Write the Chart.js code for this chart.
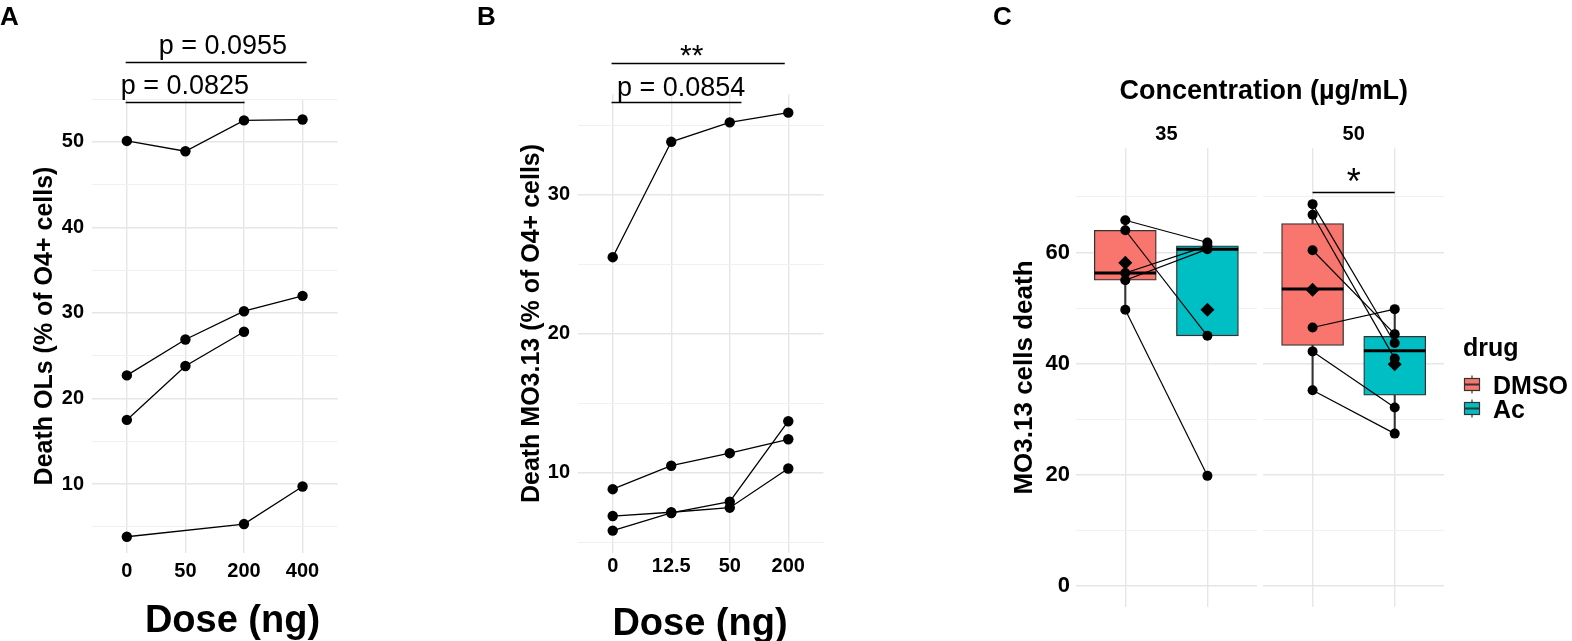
<!DOCTYPE html>
<html>
<head>
<meta charset="utf-8">
<script src="https://cdn.jsdelivr.net/npm/chart.js@4.4.1/dist/chart.umd.min.js"></script>
<style>
  html, body { margin: 0; padding: 0; background: #fff; }
  body { width: 1572px; height: 641px; position: relative; overflow: hidden; }
  canvas { position: absolute; top: 0; }
</style>
</head>
<body>
<canvas id="chartA" width="470" height="641" style="left:0"></canvas>
<canvas id="chartB" width="500" height="641" style="left:470px"></canvas>
<canvas id="chartC35" width="602" height="641" style="left:970px"></canvas>
<canvas id="chartC50" width="602" height="641" style="left:970px"></canvas>
<script>
"use strict";

const FONT = "'Liberation Sans', Arial, Helvetica, sans-serif";
const GRID = "#e6e6e6";
const GRID_MINOR = "#f0f0f0";

// panel A - OL death, one array per replicate (null = not measured)
const doseA = ["0", "50", "200", "400"];
const deathA1 = [50.1, 48.9, 52.5, 52.6];
const deathA2 = [22.7, 26.9, 30.2, 32.0];
const deathA3 = [17.5, 23.8, 27.8, null];
const deathA4 = [3.85, null, 5.33, 9.72];
const ticksA = [5, 10, 15, 20, 25, 30, 35, 40, 45, 50, 55];
const labelsA = [10, 20, 30, 40, 50];

// panel B - MO3.13 death
const doseB = ["0", "12.5", "50", "200"];
const deathB1 = [25.5, 33.8, 35.2, 35.9];
const deathB2 = [8.81, 10.5, 11.4, 12.4];
const deathB3 = [6.88, 7.15, 7.48, 10.3];
const deathB4 = [5.83, 7.1, 7.91, 13.7];
const ticksB = [5, 10, 15, 20, 25, 30, 35];
const labelsB = [10, 20, 30];

// panel C - paired wells, DMSO vs Ac at two concentrations
const concs = ["35", "50"];
const drugs = ["DMSO", "Ac"];
const drugColors = ["#F8766D", "#00BFC4"];
const dmso35 = [65.8, 64.0, 56.3, 55.0, 49.7];
const ac35 = [61.8, 45.0, 61.2, 60.6, 19.8];
const dmso50 = [68.7, 66.8, 60.4, 46.5, 42.2, 35.2];
const ac50 = [43.7, 40.9, 45.3, 49.8, 32.1, 27.4];
const ticksC = [0, 10, 20, 30, 40, 50, 60, 70];
const labelsC = [0, 20, 40, 60];

// stat annotations (x in group index units, y in data units)
const bracketsA = [
  { from: -0.02, to: 3.07, y: 59.33, label: "p = 0.0955", lx: 1.64, ly: 60.3, size: 27 },
  { from: -0.02, to: 2.01, y: 54.6, label: "p = 0.0825", lx: 0.99, ly: 55.57, size: 27 },
];
const bracketsB = [
  { from: -0.02, to: 2.94, y: 39.5, label: "**", lx: 1.35, ly: 39.35, size: 30 },
  { from: -0.02, to: 2.2, y: 36.65, label: "p = 0.0854", lx: 1.17, ly: 37.12, size: 27 },
];
const bracketsC50 = [
  { from: 1, to: 2, y: 70.9, label: "*", lx: 1.5, ly: 70.5, size: 36 },
];

const textPlugin = {
  id: "panelText",
  afterDraw(chart, args, opts) {
    const ctx = chart.ctx;
    (opts.items || []).forEach((t) => {
      ctx.save();
      ctx.font = `${t.weight || "normal"} ${t.size}px ${FONT}`;
      ctx.fillStyle = "#000";
      ctx.textAlign = t.align || "left";
      ctx.textBaseline = "alphabetic";
      ctx.fillText(t.text, t.x, t.y);
      ctx.restore();
    });
  },
};

const bracketPlugin = {
  id: "brackets",
  afterDraw(chart, args, opts) {
    const { ctx } = chart;
    const x = chart.scales.x;
    const y = chart.scales.y;
    (opts.items || []).forEach((b) => {
      const py = Math.round(y.getPixelForValue(b.y)) + 0.5;
      ctx.save();
      ctx.strokeStyle = "#000";
      ctx.lineWidth = 1.3;
      ctx.beginPath();
      ctx.moveTo(x.getPixelForValue(b.from), py);
      ctx.lineTo(x.getPixelForValue(b.to), py);
      ctx.stroke();
      ctx.font = `${b.size}px ${FONT}`;
      ctx.fillStyle = "#000";
      ctx.textAlign = "center";
      ctx.textBaseline = "alphabetic";
      ctx.fillText(b.label, x.getPixelForValue(b.lx), y.getPixelForValue(b.ly));
      ctx.restore();
    });
  },
};

// small boxplot glyph legend like ggplot's
const legendPlugin = {
  id: "boxLegend",
  afterDraw(chart, args, o) {
    if (!o.show) return;
    const ctx = chart.ctx;
    ctx.save();
    ctx.fillStyle = "#000";
    ctx.textBaseline = "alphabetic";
    ctx.font = `bold 25px ${FONT}`;
    ctx.fillText(o.title, o.x, o.titleY);
    drugs.forEach((d, i) => {
      const cy = o.rowY[i];
      const cx = o.x + 9;
      ctx.strokeStyle = "#333";
      ctx.lineWidth = 1.2;
      ctx.beginPath();
      ctx.moveTo(cx, cy - 9);
      ctx.lineTo(cx, cy + 9);
      ctx.stroke();
      ctx.fillStyle = drugColors[i];
      ctx.fillRect(cx - 7.5, cy - 6, 15, 12);
      ctx.strokeRect(cx - 7.5, cy - 6, 15, 12);
      ctx.lineWidth = 2;
      ctx.beginPath();
      ctx.moveTo(cx - 7.5, cy);
      ctx.lineTo(cx + 7.5, cy);
      ctx.stroke();
      ctx.fillStyle = "#000";
      ctx.font = `bold 25px ${FONT}`;
      ctx.fillText(d, o.x + 30, cy + 9);
    });
    ctx.restore();
  },
};

function yAxis(o) {
  return {
    type: "linear",
    min: o.min,
    max: o.max,
    afterBuildTicks: (s) => { s.ticks = o.ticks.map((v) => ({ value: v })); },
    afterFit: (s) => { s.width = o.width; },
    ticks: {
      display: o.showTicks !== false,
      autoSkip: false,
      padding: o.tickPad,
      color: "#000",
      font: { family: FONT, size: o.tickSize, weight: "bold" },
      callback: (v) => (o.labels.includes(v) ? String(v) : ""),
    },
    grid: {
      drawTicks: false,
      color: (c) => (c.tick && o.labels.includes(c.tick.value) ? GRID : GRID_MINOR),
      lineWidth: (c) => (c.tick && o.labels.includes(c.tick.value) ? 1.4 : 1),
    },
    border: { display: false },
    title: o.title
      ? {
          display: true,
          text: o.title,
          color: "#000",
          font: { family: FONT, size: o.titleSize, weight: "bold" },
          padding: { top: o.titlePad, bottom: 0 },
        }
      : { display: false },
  };
}

function doseChart(id, doses, series, o) {
  return new Chart(document.getElementById(id), {
    type: "line",
    data: {
      datasets: series.map((s) => ({
        data: s.map((v, i) => ({ x: i, y: v })).filter((p) => p.y !== null),
        borderColor: "#000",
        backgroundColor: "#000",
        borderWidth: 1.3,
        pointRadius: 5.2,
        pointBorderWidth: 0,
        tension: 0,
      })),
    },
    options: {
      responsive: false,
      animation: false,
      layout: { padding: { top: o.top, right: o.right, left: 0, bottom: 0 } },
      plugins: {
        legend: { display: false },
        tooltip: { enabled: false },
        panelText: { items: o.texts },
        brackets: { items: o.brackets },
      },
      scales: {
        x: {
          type: "linear",
          min: -0.6,
          max: doses.length - 0.4,
          afterBuildTicks: (s) => { s.ticks = doses.map((d, i) => ({ value: i })); },
          afterFit: (s) => { s.height = 88; },
          ticks: {
            autoSkip: false,
            padding: o.xTickPad,
            color: "#000",
            font: { family: FONT, size: 20, weight: "bold" },
            callback: (v) => doses[v],
          },
          grid: { drawTicks: false, color: GRID, lineWidth: 1.4 },
          border: { display: false },
        },
        y: yAxis(o.y),
      },
    },
    plugins: [textPlugin, bracketPlugin],
  });
}

doseChart("chartA", doseA, [deathA1, deathA2, deathA3, deathA4], {
  top: 99,
  right: 132.3,
  xTickPad: 6.8,
  y: {
    min: 1.95, max: 55.0, ticks: ticksA, labels: labelsA, width: 91.7, tickPad: 7.7, tickSize: 20,
    title: "Death OLs (% of O4+ cells)", titleSize: 25, titlePad: 30.5,
  },
  brackets: bracketsA,
  texts: [
    { text: "A", x: 0, y: 25, size: 26, weight: "bold" },
    { text: "Dose (ng)", x: 232.5, y: 631.7, size: 38, weight: "bold", align: "center" },
  ],
});

doseChart("chartB", doseB, [deathB1, deathB2, deathB3, deathB4], {
  top: 94,
  right: 146.6,
  xTickPad: 1.2,
  y: {
    min: 4.22, max: 37.24, ticks: ticksB, labels: labelsB, width: 107.6, tickPad: 7.6, tickSize: 20,
    title: "Death MO3.13 (% of O4+ cells)", titleSize: 25, titlePad: 47.5,
  },
  brackets: bracketsB,
  texts: [
    { text: "B", x: 7, y: 25, size: 26, weight: "bold" },
    { text: "Dose (ng)", x: 230, y: 635, size: 38, weight: "bold", align: "center" },
  ],
});

function quantile(arr, p) {
  const s = [...arr].sort((a, b) => a - b);
  const h = (s.length - 1) * p;
  const lo = Math.floor(h);
  const next = lo + 1 < s.length ? s[lo + 1] : s[lo];
  return s[lo] + (h - lo) * (next - s[lo]);
}

function boxStats(arr) {
  const q1 = quantile(arr, 0.25);
  const med = quantile(arr, 0.5);
  const q3 = quantile(arr, 0.75);
  const iqr = q3 - q1;
  const inside = arr.filter((v) => v >= q1 - 1.5 * iqr && v <= q3 + 1.5 * iqr);
  return {
    q1, med, q3,
    lo: Math.min(...inside),
    hi: Math.max(...inside),
    mean: arr.reduce((a, b) => a + b, 0) / arr.length,
  };
}

function facetChart(id, dmso, ac, o) {
  const stats = [dmso, ac].map(boxStats);
  const half = 0.375;
  const datasets = [];

  dmso.forEach((v, i) => {
    datasets.push({
      type: "line",
      data: [{ x: 1, y: v }, { x: 2, y: ac[i] }],
      borderColor: "#000",
      backgroundColor: "#000",
      borderWidth: 1.2,
      pointRadius: 5,
      pointBorderWidth: 0,
      order: 2,
    });
  });
  datasets.push({
    type: "line",
    data: stats.map((s, i) => ({ x: i + 1, y: s.mean })),
    showLine: false,
    pointStyle: "rectRot",
    pointRadius: 7,
    pointBorderWidth: 0,
    backgroundColor: "#000",
    order: 1,
  });
  datasets.push({
    type: "line",
    data: [
      { x: 1 - half, y: stats[0].med }, { x: 1 + half, y: stats[0].med },
      { x: 1.5, y: null },
      { x: 2 - half, y: stats[1].med }, { x: 2 + half, y: stats[1].med },
    ],
    spanGaps: false,
    borderColor: "#000",
    borderWidth: 3,
    pointRadius: 0,
    order: 3,
  });
  datasets.push({
    type: "bar",
    data: stats.map((s, i) => ({ x: i + 1, y: [s.q1, s.q3] })),
    backgroundColor: drugColors,
    borderColor: "#333",
    borderWidth: 1.3,
    borderSkipped: false,
    barThickness: 62,
    grouped: false,
    order: 4,
  });
  datasets.push({
    type: "bar",
    data: stats.flatMap((s, i) => [{ x: i + 1, y: [s.q3, s.hi] }, { x: i + 1, y: [s.lo, s.q1] }]),
    backgroundColor: "#333",
    borderWidth: 0,
    barThickness: 1.4,
    grouped: false,
    order: 5,
  });

  return new Chart(document.getElementById(id), {
    type: "bar",
    data: { datasets },
    options: {
      responsive: false,
      animation: false,
      layout: { padding: { top: 148.3, right: o.right, left: o.left, bottom: 0 } },
      plugins: {
        legend: { display: false },
        tooltip: { enabled: false },
        panelText: { items: o.texts || [] },
        brackets: { items: o.brackets || [] },
        boxLegend: o.legend || { show: false },
      },
      scales: {
        x: {
          type: "linear",
          min: 0.4,
          max: 2.6,
          offset: false,
          afterBuildTicks: (s) => { s.ticks = drugs.map((d, i) => ({ value: i + 1 })); },
          afterFit: (s) => { s.height = 34.3; },
          ticks: { display: false },
          grid: { drawTicks: false, offset: false, color: GRID, lineWidth: 1.4 },
          border: { display: false },
        },
        y: yAxis(o.y),
      },
    },
    plugins: [textPlugin, bracketPlugin, legendPlugin],
  });
}

facetChart("chartC35", dmso35, ac35, {
  left: 0,
  right: 315.3,
  y: {
    min: -3.75, max: 78.75, ticks: ticksC, labels: labelsC, width: 106, tickPad: 6, tickSize: 22,
    title: "MO3.13 cells death", titleSize: 26, titlePad: 39.4,
  },
});

facetChart("chartC50", dmso50, ac50, {
  left: 293.3,
  right: 128,
  y: { min: -3.75, max: 78.75, ticks: ticksC, labels: labelsC, width: 0, tickPad: 0, tickSize: 22, showTicks: false },
  brackets: bracketsC50,
  texts: [
    { text: "C", x: 23, y: 24.5, size: 26, weight: "bold" },
    { text: "Concentration (µg/mL)", x: 293.7, y: 99.3, size: 27, weight: "bold", align: "center" },
    { text: concs[0], x: 196.4, y: 140, size: 20, weight: "bold", align: "center" },
    { text: concs[1], x: 383.7, y: 140, size: 20, weight: "bold", align: "center" },
  ],
  legend: { show: true, title: "drug", x: 493, titleY: 356, rowY: [384.5, 408.5] },
});
</script>
</body>
</html>
